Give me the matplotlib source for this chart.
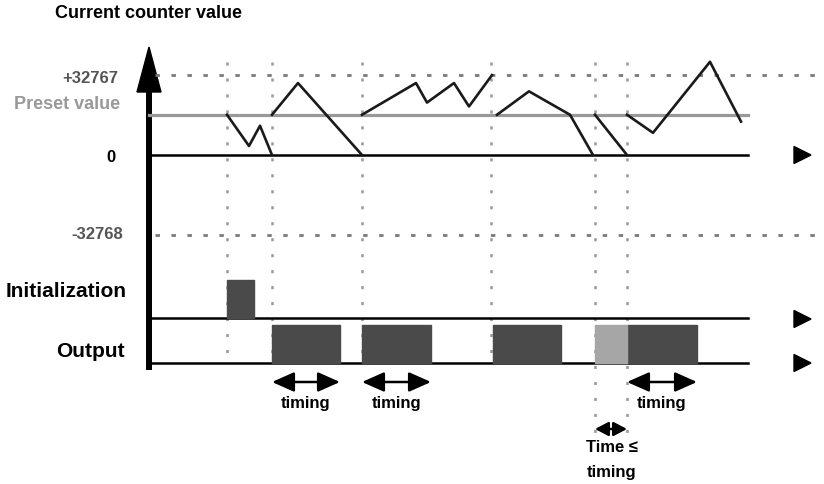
import matplotlib.pyplot as plt
from matplotlib.patches import FancyArrowPatch

plt.rcParams['font.family'] = ['Liberation Sans', 'DejaVu Sans']
plt.rcParams['lines.scale_dashes'] = False

# Counter values
COUNT_MAX = 32767
COUNT_MIN = -32768
PRESET = 16500

# Time marks (vertical dotted lines)
time_marks = [227, 272, 362, 491, 595, 627]
mark_bottoms = [364, 364, 364, 364, 440, 440]

# Counter trace, one list per segment
seg_t = [[227, 249, 260, 272],
         [272, 298, 362],
         [362, 416, 427, 454, 469, 492],
         [497, 529, 570, 593],
         [595, 627],
         [627, 653, 710, 741]]
seg_v = [[16500, 3700, 12000, 0],
         [16500, 29500, 0],
         [16500, 29500, 21500, 29500, 19900, 32767],
         [16500, 26100, 16500, 0],
         [16500, 0],
         [16500, 9100, 38200, 13700]]

# Signals (start, end)
init_pulse = (227, 254)
output_pulses = [(272, 340), (362, 431), (493, 561), (627, 697)]
short_pulse = (595, 627)
timed_pulses = [(272, 340), (362, 431), (627, 697)]

DARK = '#4a4a4a'
LIGHT = '#a6a6a6'
GRAY = '#999999'

fig = plt.figure(figsize=(8.24, 4.85), dpi=100)
ax = fig.add_axes([0, 0, 1, 1])
ax.set_xlim(0, 824)
ax.set_ylim(485, 0)
ax.axis('off')

# counter axes: y in counts
ax_c = fig.add_axes([0, 1 - 250 / 485, 1, 210 / 485])
ax_c.set_xlim(0, 824)
ax_c.set_ylim(-38540, 47560)
ax_c.axis('off')
ax_c.patch.set_alpha(0)

# vertical dotted time marks
for t, yb in zip(time_marks, mark_bottoms):
    ax.plot([t, t], [63, yb], color=GRAY, lw=1.8, ls=(0, (2.2, 9.3)), zorder=1)

# limits
for v in [COUNT_MAX, COUNT_MIN]:
    ax_c.plot([155, 824], [v, v], color='#7a7a7a', lw=2, ls=(0, (3.2, 8.3)), zorder=1)
ax_c.plot([149, 748], [PRESET, PRESET], color=GRAY, lw=2.3, zorder=2)
ax_c.plot([149, 748], [0, 0], color='black', lw=1.8, zorder=2)

for t, v in zip(seg_t, seg_v):
    ax_c.plot(t, v, color='#1a1a1a', lw=1.9, zorder=3)

# signal rows
ax.plot([149, 748], [319, 319], color='black', lw=1.8, zorder=2)
ax.plot([149, 748], [364, 364], color='black', lw=1.8, zorder=2)
ax.broken_barh([(init_pulse[0], init_pulse[1] - init_pulse[0])], (281, 38), color=DARK, zorder=2)
ax.broken_barh([(a, b - a) for a, b in output_pulses], (326, 38), color=DARK, zorder=2)
ax.broken_barh([(short_pulse[0], short_pulse[1] - short_pulse[0])], (326, 38), color=LIGHT, zorder=2)

# main vertical axis
ax.plot([149, 149], [92, 371], color='black', lw=4.3, solid_capstyle='butt', zorder=4)
ax.fill([137, 161, 149], [93, 93, 48], color='black', zorder=4)

# right-side arrowheads
for y in [156, 320, 364]:
    ax.fill([794, 794, 811], [y - 8.5, y + 8.5, y], color='black')

# timing arrows
for a, b in timed_pulses:
    ax.add_patch(FancyArrowPatch((a, 383), (b, 383),
                 arrowstyle='<|-|>,head_length=13.5,head_width=6',
                 lw=1.8, color='black', shrinkA=0, shrinkB=0))
    ax.text((a + b) / 2, 408, 'timing', ha='center', va='baseline',
            fontsize=12, fontweight='bold')
ax.add_patch(FancyArrowPatch((short_pulse[0], 430), (short_pulse[1], 430),
             arrowstyle='<|-|>,head_length=8,head_width=4.2',
             lw=1.8, color='black', shrinkA=0, shrinkB=0))
ax.text(612, 452, 'Time \u2264', ha='center', va='baseline', fontsize=12, fontweight='bold')
ax.text(612, 477, 'timing', ha='center', va='baseline', fontsize=12, fontweight='bold')

# labels
ax.text(149, 18, 'Current counter value', ha='center', va='baseline',
        fontsize=13, fontweight='bold')
ax.text(118, 83, '+32767', ha='right', va='baseline', fontsize=12, fontweight='bold', color='#555555')
ax.text(120, 109, 'Preset value', ha='right', va='baseline', fontsize=13, fontweight='bold', color=GRAY)
ax.text(116, 162, '0', ha='right', va='baseline', fontsize=12, fontweight='bold')
ax.text(123, 239, '-32768', ha='right', va='baseline', fontsize=12, fontweight='bold', color='#555555')
ax.text(127, 297, 'Initialization', ha='right', va='baseline', fontsize=15, fontweight='bold')
ax.text(125, 357, 'Output', ha='right', va='baseline', fontsize=15, fontweight='bold')

fig.savefig('out.png', dpi=100)
